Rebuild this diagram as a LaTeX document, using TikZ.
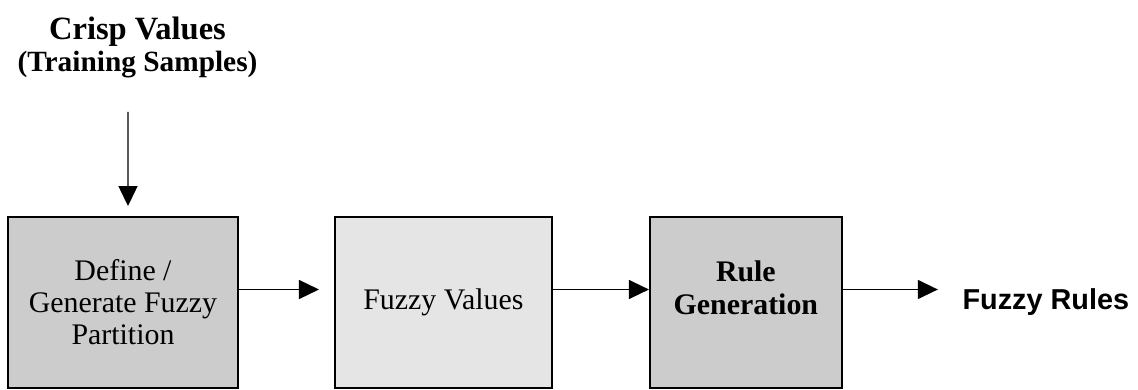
\documentclass[tikz,border=0pt]{standalone}
\usepackage{fontspec}
\setmainfont{Liberation Serif}
\newfontfamily\arialfont{Liberation Sans}
\usepackage{tikz}
\usetikzlibrary{arrows.meta, positioning}
\tikzset{
  stagebox/.style={rectangle, draw=black, line width=1.1pt, align=center,
                   minimum height=3.42cm, inner sep=2pt,
                   font=\fontsize{17}{18.2}\selectfont},
  darkfill/.style={fill=black!20},
  lightfill/.style={fill=black!10},
  arrow/.style={-{Triangle[length=0.4cm, width=0.38cm]}, line width=0.8pt},
}

\begin{document}
\begin{tikzpicture}[node distance=1.9cm]
    \useasboundingbox (0,0) rectangle (22.76,-7.8);
    \node[stagebox, darkfill, minimum width=4.6cm] (def) at (2.46,-6.05) {Define /\\Generate Fuzzy\\Partition};
    \node[stagebox, lightfill, minimum width=4.34cm, right=1.9cm of def] (fval) {Fuzzy Values};
    \node[stagebox, darkfill, minimum width=3.84cm, right=1.92cm of fval] (rule) {};
    \node[align=center, font=\fontsize{17}{18.8}\selectfont\bfseries] (rulelbl) at ([yshift=0.3cm]rule.center) {Rule\\Generation};
    \node[align=center, font=\fontsize{18.5}{18.2}\selectfont\bfseries] (crisp) at (2.75,-0.95) {Crisp Values\\{\fontsize{16.7}{18.2}\selectfont (Training Samples)}};
    \coordinate (crispout) at (2.56,-2.24);
    \coordinate[right=1.9cm of rule.east, yshift=0.26cm] (rulesout);
    \node[anchor=west, font=\arialfont\fontsize{16.4}{18}\selectfont\bfseries] (frules) at ([xshift=0.37cm, yshift=-0.25cm]rulesout) {Fuzzy Rules};
    \draw[arrow, shorten >=0.2cm] (crispout) -- ([xshift=1mm]def.north);
    \draw[arrow, shorten >=0.3cm] ([yshift=0.26cm]def.east) -- ([yshift=0.26cm]fval.west);
    \draw[arrow] ([yshift=0.26cm]fval.east) -- ([yshift=0.26cm]rule.west);
    \draw[arrow] ([yshift=0.26cm]rule.east) -- (rulesout);
  \end{tikzpicture}
\end{document}
